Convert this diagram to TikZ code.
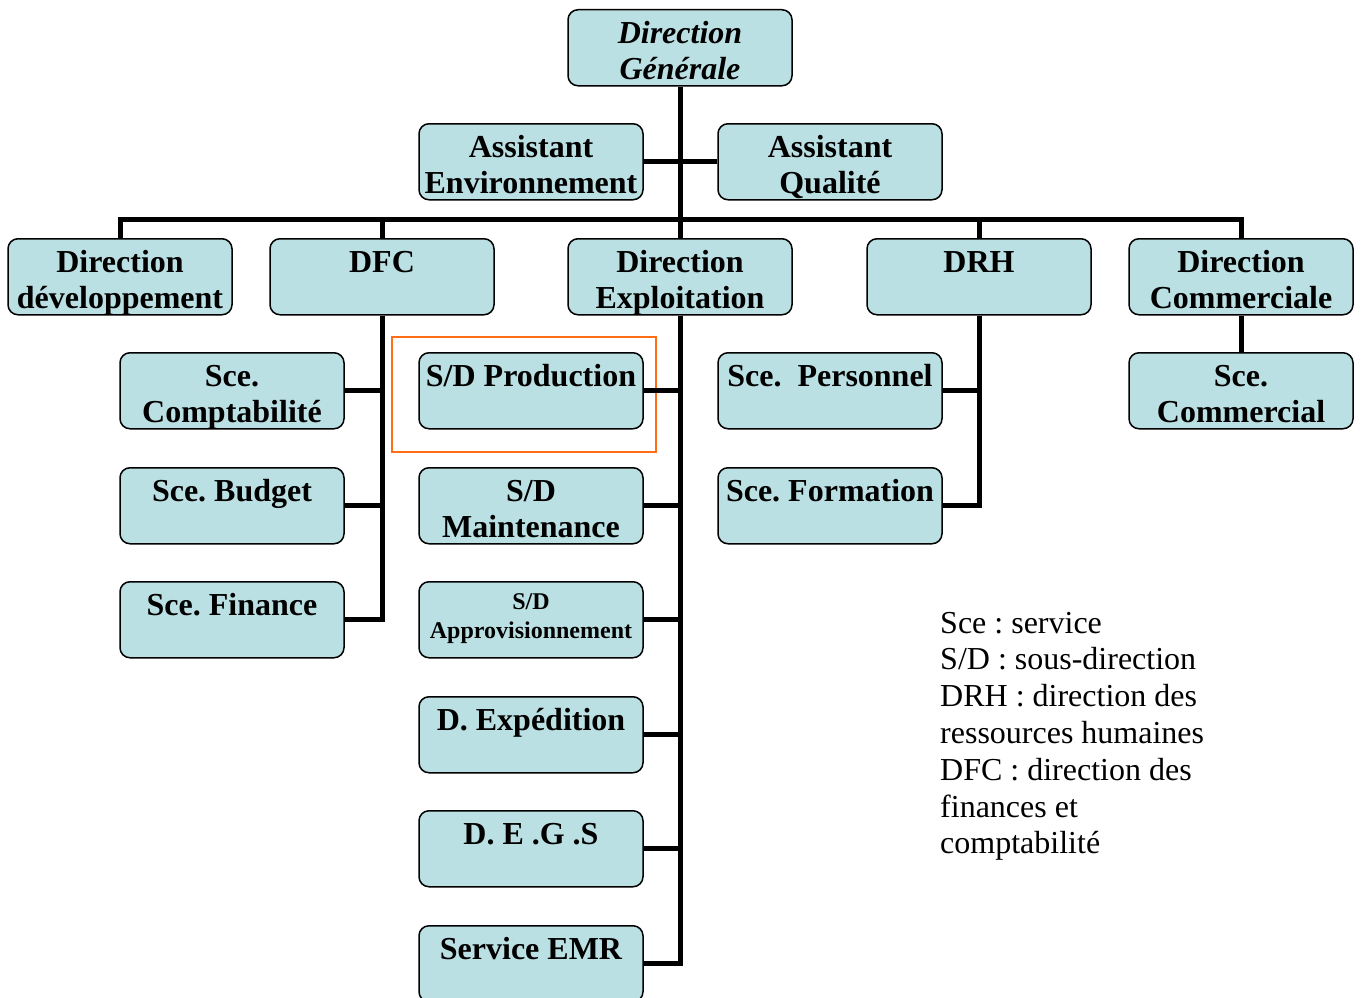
\documentclass[tikz,border=0pt]{standalone}
\usepackage{fontspec}
\setmainfont{Liberation Serif}
\frenchspacing
\definecolor{boxfill}{RGB}{187,224,227}
\definecolor{markorange}{RGB}{255,110,20}
% text of a box, set from its top edge
\newcommand{\unittext}[1]{\parbox[t][76pt][t]{224pt}{\centering\rule{0pt}{34pt}#1}}
\newcommand{\smallunittext}[1]{\parbox[t][76pt][t]{224pt}{\centering\rule{0pt}{28pt}#1}}
\tikzset{
  unit/.style={draw=black, line width=1.5pt, rounded corners=10pt, fill=boxfill,
    minimum width=224pt, minimum height=76pt, inner sep=0pt, anchor=north,
    font=\bfseries\fontsize{32}{36}\selectfont},
  link/.style={draw=black, line width=5pt},
}
\begin{document}
\begin{tikzpicture}[x=1pt, y=-1pt]
\useasboundingbox (0,0) rectangle (1362,998);
% marked sub-direction
\draw[markorange, line width=2pt] (392,337) rectangle (656,452);
	% top
	\node[unit] (dg) at (680,9) {\unittext{\itshape Direction\\Générale}};
	\node[unit] (aenv) at (531,123) {\unittext{Assistant\\Environnement}};
	\node[unit] (aqual) at (830,123) {\unittext{Assistant\\Qualité}};
	% directions
	\node[unit] (ddev) at (120,238) {\unittext{Direction\\développement}};
	\node[unit] (dfc) at (382,238) {\unittext{DFC}};
	\node[unit] (dexp) at (680,238) {\unittext{Direction\\Exploitation}};
	\node[unit] (drh) at (979,238) {\unittext{DRH}};
	\node[unit] (dcom) at (1241,238) {\unittext{Direction\\Commerciale}};
	% services of DFC
	\node[unit] (compta) at (232,352) {\unittext{Sce.\\Comptabilité}};
	\node[unit] (budget) at (232,467) {\unittext{Sce. Budget}};
	\node[unit] (finance) at (232,581) {\unittext{Sce. Finance}};
	% sub-directions of exploitation
	\node[unit] (prod) at (531,352) {\unittext{S/D Production}};
	\node[unit] (maint) at (531,467) {\unittext{S/D\\Maintenance}};
	\node[unit, font=\bfseries\fontsize{24}{29}\selectfont] (appro) at (531,581) {\smallunittext{S/D\\Approvisionnement}};
	\node[unit] (dexped) at (531,696) {\unittext{D. Expédition}};
	\node[unit] (degs) at (531,810) {\unittext{D. E .G .S}};
	\node[unit] (emr) at (531,925) {\unittext{Service EMR}};
	% services of DRH and commercial
	\node[unit] (pers) at (830,352) {\unittext{Sce.~~Personnel}};
	\node[unit] (form) at (830,467) {\unittext{Sce. Formation}};
	\node[unit] (scom) at (1241,352) {\unittext{Sce.\\Commercial}};
	% links
	\coordinate (bus) at (680,219);
	\draw[link] (dg.south) -- (dexp.north);
	\draw[link] (aenv.east) -- (aqual.west);
	\draw[link] (ddev.north) |- (bus) -| (dcom.north);
	\draw[link] (dfc.north) -- (dfc.north |- bus);
	\draw[link] (drh.north) -- (drh.north |- bus);
	\draw[link] (dfc.south) |- (compta.east);
	\draw[link] (dfc.south) |- (budget.east);
	\draw[link] (dfc.south) |- (finance.east);
	\draw[link] (dexp.south) |- (prod.east);
	\draw[link] (dexp.south) |- (maint.east);
	\draw[link] (dexp.south) |- (appro.east);
	\draw[link] (dexp.south) |- (dexped.east);
	\draw[link] (dexp.south) |- (degs.east);
	\draw[link] (dexp.south) |- (emr.east);
	\draw[link] (drh.south) |- (pers.east);
	\draw[link] (drh.south) |- (form.east);
	\draw[link] (dcom.south) -- (scom.north);
	% legend
	\node[anchor=base west, inner sep=0pt, font=\fontsize{32}{36.8}\selectfont] (legend) at (940,633)
	  {\parbox[t]{400pt}{\raggedright Sce : service\\S/D : sous-direction\\DRH : direction des\\ressources humaines\\DFC : direction des\\finances et\\comptabilité}};
\end{tikzpicture}
\end{document}
